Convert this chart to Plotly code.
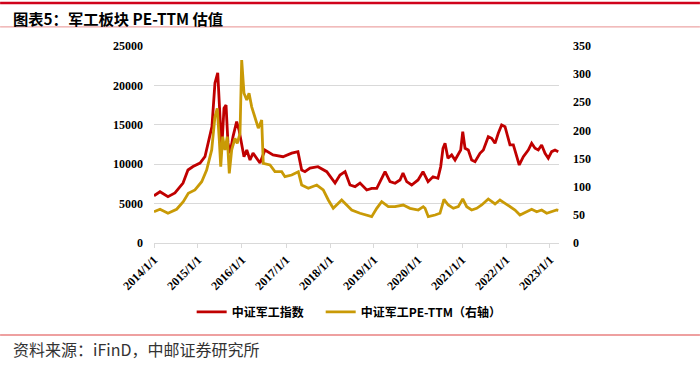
import plotly.graph_objects as go

# ---- data ----
idx_dates = ["2014-01-01","2014-02-20","2014-04-27","2014-06-24","2014-08-30","2014-10-10","2014-11-21",
             "2015-01-18","2015-02-28","2015-03-25","2015-04-27","2015-05-22","2015-06-14","2015-07-03",
             "2015-07-17","2015-08-05","2015-08-22","2015-09-07","2015-09-24","2015-10-19","2015-11-18",
             "2015-12-08","2015-12-30","2016-01-18","2016-02-10","2016-03-08","2016-04-02","2016-05-30",
             "2016-07-10","2016-09-15","2016-12-07","2017-02-17","2017-04-10","2017-05-11","2017-06-07",
             "2017-07-19","2017-09-23","2017-12-05","2018-02-12","2018-03-25","2018-05-06","2018-06-16",
             "2018-07-28","2018-09-07","2018-11-02","2018-12-13","2019-01-24","2019-03-06","2019-04-03",
             "2019-05-14","2019-06-25","2019-08-05","2019-08-30","2019-09-30","2019-11-10","2020-01-02",
             "2020-02-12","2020-03-25","2020-05-05","2020-06-15","2020-07-08","2020-07-27","2020-08-13",
             "2020-09-06","2020-10-07","2020-11-04","2020-11-29","2020-12-21","2021-01-07","2021-01-26",
             "2021-02-22","2021-03-22","2021-04-19","2021-05-30","2021-06-27","2021-08-07","2021-09-04",
             "2021-10-02","2021-10-29","2021-11-26","2021-12-24","2022-01-12","2022-02-03","2022-03-03",
             "2022-03-31","2022-04-21","2022-05-25","2022-07-05","2022-08-02","2022-08-30","2022-09-26",
             "2022-10-24","2022-11-21","2022-12-18","2023-01-15","2023-02-12","2023-03-11"]
idx_values = [6000,6500,5880,6350,7600,9260,9700,
              10150,10950,12440,14760,20300,21600,16000,
              11800,17100,17500,12700,11400,13500,15400,
              14340,12700,10950,11800,10530,11400,10150,
              11800,11170,10950,11400,11590,9260,9050,
              9500,9680,9050,7610,8630,9050,7360,
              7150,7610,6730,6940,6940,8210,9050,
              7780,7580,8000,8880,7780,7360,8000,
              9050,7780,8410,8210,9680,12020,12650,
              10750,11170,10530,11170,11800,14120,12020,
              11800,10530,10320,11380,11800,13490,13290,
              12650,13920,14970,14760,13490,12440,12440,
              10950,9900,10950,11800,12650,12020,11800,
              12440,11380,10750,11590,11800,11590]

pe_dates = ["2014-01-01","2014-02-20","2014-04-27","2014-07-08","2014-09-01","2014-10-13","2014-12-07",
            "2015-02-01","2015-03-14","2015-04-25","2015-05-22","2015-06-10","2015-06-27","2015-07-09",
            "2015-07-25","2015-08-13","2015-09-01","2015-09-18","2015-10-08","2015-11-04","2015-11-23",
            "2015-12-16","2015-12-30","2016-01-18","2016-02-10","2016-02-29","2016-03-22","2016-04-18",
            "2016-05-16","2016-06-13","2016-06-26","2016-08-21","2016-10-01","2016-11-26","2016-12-23",
            "2017-02-17","2017-04-13","2017-05-11","2017-07-05","2017-09-13","2017-11-06","2017-12-18",
            "2018-01-28","2018-04-08","2018-05-20","2018-06-30","2018-09-07","2018-11-02","2018-12-13",
            "2019-01-24","2019-03-06","2019-04-30","2019-06-25","2019-09-01","2019-10-27","2020-01-04",
            "2020-02-14","2020-02-29","2020-03-27","2020-05-22","2020-07-02","2020-08-04","2020-09-09",
            "2020-10-21","2020-12-01","2021-01-07","2021-02-09","2021-03-22","2021-05-03","2021-06-13",
            "2021-08-07","2021-10-02","2021-11-12","2021-12-24","2022-02-03","2022-03-17","2022-04-27",
            "2022-06-22","2022-08-02","2022-09-13","2022-10-24","2022-12-05","2023-01-15","2023-02-26",
            "2023-03-11"]
pe_values = [55.6,59.9,52.8,59.9,73.4,88.3,94.2,
             108.9,129.7,165.3,224.4,239.3,183.0,135.6,
             188.9,165.3,188.9,123.8,165.3,186.0,177.1,
             194.9,325.0,266.0,254.0,266.0,242.0,224.0,
             204.0,218.5,141.6,138.6,126.7,126.7,117.8,
             120.8,126.7,103.0,97.2,103.0,94.2,76.4,
             61.6,76.4,67.5,58.6,52.8,49.7,46.7,
             61.6,73.4,64.5,64.5,67.5,61.6,58.6,
             64.5,61.6,46.7,49.7,52.8,77.6,67.5,
             61.6,64.5,78.2,64.5,58.6,61.6,67.5,
             78.2,69.3,76.4,70.5,64.5,58.6,49.7,
             55.6,59.9,55.6,58.6,52.8,55.6,58.6,
             58.0]

year_ticks = ["2014-01-01","2015-01-01","2016-01-01","2017-01-01","2018-01-01",
              "2019-01-01","2020-01-01","2021-01-01","2022-01-01","2023-01-01"]
year_labels = ["2014/1/1","2015/1/1","2016/1/1","2017/1/1","2018/1/1",
               "2019/1/1","2020/1/1","2021/1/1","2022/1/1","2023/1/1"]

title_text = "图表5：军工板块 PE-TTM 估值"
source_text = "资料来源：iFinD，中邮证券研究所"
name_idx = "中证军工指数"
name_pe = "中证军工PE-TTM（右轴）"

RED = "#C00000"
GOLD = "#C99A06"
TICKFONT = dict(family="Liberation Serif", size=12, color="#000000", weight="bold")
CJK = "Noto Sans CJK SC"
LEGFONT = dict(family=CJK, size=12, color="#000000", weight="bold")

fig = go.Figure()
fig.add_trace(go.Scatter(x=idx_dates, y=idx_values, name=name_idx, mode="lines",
                         line=dict(color=RED, width=2.8), legend="legend"))
fig.add_trace(go.Scatter(x=pe_dates, y=pe_values, name=name_pe, mode="lines",
                         line=dict(color=GOLD, width=2.8), yaxis="y2", legend="legend2"))

fig.update_layout(
    width=700, height=366,
    margin=dict(l=154, r=141, t=46, b=123, autoexpand=False),
    paper_bgcolor="white", plot_bgcolor="white",
    showlegend=True,
    legend=dict(orientation="h", x=0.093, y=-0.35, xanchor="left", yanchor="middle",
                font=LEGFONT, itemwidth=30, bgcolor="rgba(0,0,0,0)"),
    legend2=dict(orientation="h", x=0.4116, y=-0.35, xanchor="left", yanchor="middle",
                 font=LEGFONT, itemwidth=30, bgcolor="rgba(0,0,0,0)"),
    xaxis=dict(type="date", range=["2014-01-01", "2023-03-17"],
               tickvals=year_ticks, ticktext=year_labels, tickangle=-45,
               tickfont=TICKFONT, showgrid=False, showline=True, linecolor="#D9D9D9",
               linewidth=1, ticks="outside", ticklen=4, tickcolor="#D9D9D9", zeroline=False,
               automargin=False),
    yaxis=dict(range=[0, 25000], dtick=5000, tickformat="d", tickfont=TICKFONT,
               showgrid=True, gridcolor="#D9D9D9", gridwidth=1, zeroline=False,
               showline=False, ticklabelstandoff=10, automargin=False),
    yaxis2=dict(range=[0, 350], dtick=50, overlaying="y", side="right", tickfont=TICKFONT,
                showgrid=False, zeroline=False, showline=False, ticklabelstandoff=13,
                automargin=False),
    hovermode=False,
)

# decorative rules and texts (paper coords)
fig.add_shape(type="line", xref="paper", yref="paper", x0=-0.38, x1=1.348, y0=1.218, y1=1.218,
              line=dict(color="#D0021B", width=2.5))
fig.add_shape(type="line", xref="paper", yref="paper", x0=-0.38, x1=1.348, y0=1.097, y1=1.097,
              line=dict(color="#E89090", width=1))
fig.add_shape(type="line", xref="paper", yref="paper", x0=-0.38, x1=1.348, y0=-0.467, y1=-0.467,
              line=dict(color="#E88080", width=1.5))
fig.add_annotation(text=title_text, xref="paper", yref="paper", x=-0.352, y=1.14,
                   xanchor="left", yanchor="middle", showarrow=False,
                   font=dict(family=CJK, size=15.3, color="#000000", weight="bold"))
fig.add_annotation(text=source_text, xref="paper", yref="paper", x=-0.352, y=-0.54,
                   xanchor="left", yanchor="middle", showarrow=False,
                   font=dict(family=CJK, size=16, color="#333333"))

fig.write_html("out.html", config={"displayModeBar": False},
               post_script="document.body.style.margin='0';document.body.style.overflow='hidden';")
